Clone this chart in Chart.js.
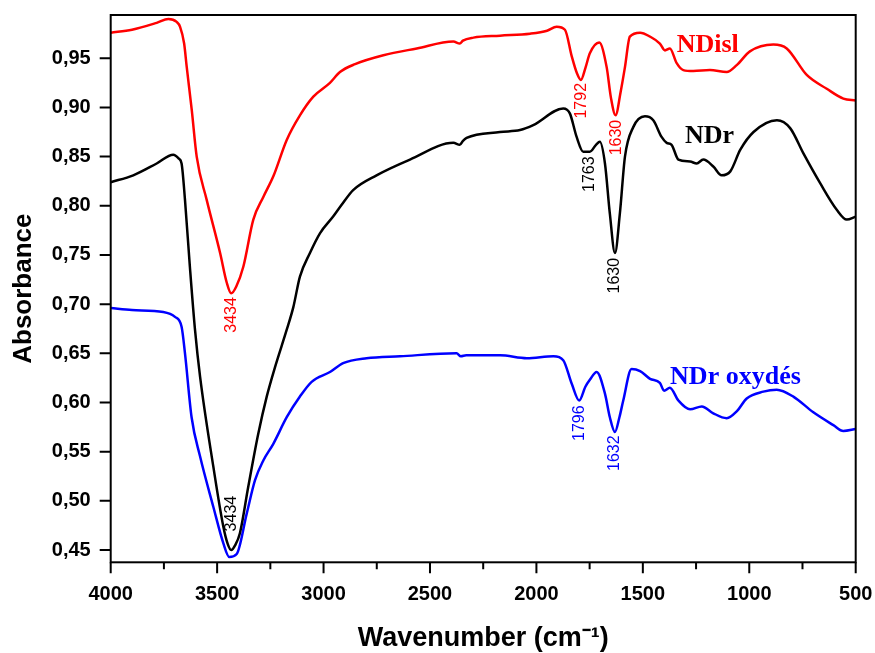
<!DOCTYPE html>
<html>
<head>
<meta charset="utf-8">
<script src="https://cdn.jsdelivr.net/npm/chart.js@4.4.1/dist/chart.umd.min.js"></script>
<style>
  html, body { margin: 0; padding: 0; background: #fff; }
  canvas { display: block; }
</style>
</head>
<body>
<canvas id="chart" width="875" height="653"></canvas>
<script>
// FTIR spectra
const wnNDisl = [4000, 3900, 3784, 3729, 3690, 3674, 3655, 3643, 3619, 3596, 3549, 3486, 3455, 3434, 3410, 3377, 3330, 3283, 3236, 3173,
  3111, 3048, 2970, 2923, 2852, 2719, 2562, 2390, 2360, 2345, 2296, 2171, 2030, 1950, 1905, 1866, 1834, 1810, 1791, 1770,
  1749, 1705, 1670, 1650, 1628, 1605, 1584, 1561, 1513, 1466, 1420, 1396, 1373, 1341, 1310, 1263, 1185, 1106, 1059, 997,
  887, 824, 730, 636, 558, 500];
const absNDisl = [0.976, 0.979, 0.986, 0.990, 0.987, 0.982, 0.965, 0.9415, 0.897, 0.850, 0.806, 0.752, 0.722, 0.711, 0.718, 0.738, 0.786, 0.809, 0.830, 0.867,
  0.892, 0.911, 0.925, 0.936, 0.944, 0.953, 0.960, 0.967, 0.965, 0.968, 0.971, 0.973, 0.975, 0.978, 0.982, 0.979, 0.952, 0.935, 0.928, 0.940,
  0.955, 0.966, 0.941, 0.910, 0.892, 0.915, 0.941, 0.972, 0.976, 0.972, 0.965, 0.958, 0.960, 0.945, 0.938, 0.937, 0.938, 0.936, 0.943, 0.957,
  0.964, 0.960, 0.933, 0.919, 0.909, 0.907];

const wnNDr = [4000, 3894, 3784, 3706, 3680, 3667, 3651, 3628, 3604, 3580, 3518, 3471, 3450, 3434, 3415, 3393, 3354, 3307, 3267, 3228,
  3173, 3142, 3111, 3064, 3017, 2955, 2915, 2861, 2751, 2594, 2390, 2360, 2345, 2328, 2171, 2077, 2015, 1874, 1843, 1811,
  1780, 1764, 1749, 1720, 1702, 1678, 1655, 1631, 1608, 1584, 1545, 1490, 1451, 1412, 1388, 1365, 1333, 1278, 1247, 1216,
  1169, 1130, 1089, 1042, 980, 870, 808, 745, 667, 589, 542, 500];
const absNDr = [0.824, 0.831, 0.843, 0.852, 0.848, 0.843, 0.806, 0.738, 0.674, 0.626, 0.535, 0.474, 0.456, 0.450, 0.455, 0.467, 0.514, 0.568, 0.606, 0.636,
  0.674, 0.697, 0.728, 0.752, 0.772, 0.789, 0.801, 0.816, 0.831, 0.847, 0.864, 0.862, 0.866, 0.869, 0.875, 0.877, 0.882, 0.899, 0.894, 0.870,
  0.855, 0.855, 0.855, 0.862, 0.865, 0.843, 0.792, 0.752, 0.792, 0.850, 0.880, 0.891, 0.887, 0.870, 0.864, 0.862, 0.847, 0.845, 0.843, 0.847,
  0.840, 0.831, 0.835, 0.857, 0.875, 0.887, 0.879, 0.853, 0.823, 0.796, 0.786, 0.789];

const wnOxy = [4000, 3900, 3753, 3698, 3667, 3651, 3620, 3580, 3518, 3471, 3443, 3408, 3361, 3322, 3283, 3236, 3173, 3111, 3056, 2970,
  2908, 2798, 2641, 2375, 2355, 2330, 2171, 2045, 1920, 1874, 1834, 1799, 1770, 1749, 1717, 1678, 1655, 1631, 1610, 1592,
  1553, 1513, 1466, 1420, 1400, 1373, 1333, 1278, 1223, 1169, 1106, 1059, 1012, 934, 871, 793, 699, 605, 558, 500];
const absOxy = [0.696, 0.694, 0.692, 0.687, 0.677, 0.650, 0.585, 0.545, 0.494, 0.457, 0.443, 0.446, 0.487, 0.521, 0.541, 0.558, 0.585, 0.606, 0.621, 0.631,
  0.640, 0.645, 0.647, 0.650, 0.647, 0.648, 0.648, 0.645, 0.647, 0.643, 0.619, 0.602, 0.616, 0.623, 0.631, 0.609, 0.585, 0.570, 0.585, 0.602,
  0.634, 0.632, 0.624, 0.620, 0.612, 0.615, 0.602, 0.593, 0.596, 0.589, 0.584, 0.591, 0.604, 0.611, 0.613, 0.606, 0.590, 0.577, 0.571, 0.573];

// peak labels (rotated) and curve names
const peakLabels = [
  { text: '3434', x: 3434, y: 0.689, color: '#ff0000' },
  { text: '1792', x: 1789, y: 0.9068, color: '#ff0000' },
  { text: '1630', x: 1623, y: 0.8694, color: '#ff0000' },
  { text: '3434', x: 3430, y: 0.487, color: '#000000' },
  { text: '1763', x: 1748, y: 0.8322, color: '#000000' },
  { text: '1630', x: 1632, y: 0.7289, color: '#000000' },
  { text: '1796', x: 1799, y: 0.579, color: '#0000ff' },
  { text: '1632', x: 1631, y: 0.5485, color: '#0000ff' }
];
const curveNames = [
  { text: 'NDisl', x: 1341, y: 0.9564, color: '#ff0000' },
  { text: 'NDr', x: 1302, y: 0.8635, color: '#000000' },
  { text: 'NDr oxydés', x: 1372, y: 0.6187, color: '#0000ff' }
];

const toPoints = (xs, ys) => xs.map((x, i) => ({ x: x, y: ys[i] }));
const sansFont = '"Liberation Sans", Arial, sans-serif';

// box, outward ticks (major/minor) and text labels
const framePlugin = {
  id: 'frame',
  afterDatasetsDraw(chart) {
    const { ctx, chartArea: a, scales: { x, y } } = chart;
    ctx.save();
    ctx.strokeStyle = '#000';
    ctx.lineWidth = 2;
    ctx.strokeRect(a.left, a.top, a.right - a.left, a.bottom - a.top);

    ctx.beginPath();
    x.ticks.forEach(t => {
      const px = x.getPixelForValue(t.value);
      const len = t.value % 500 === 0 ? 11 : 7;
      ctx.moveTo(px, a.bottom);
      ctx.lineTo(px, a.bottom + len);
    });
    y.ticks.forEach(t => {
      const py = y.getPixelForValue(t.value);
      const major = Math.abs(t.value * 20 - Math.round(t.value * 20)) < 1e-6;
      ctx.moveTo(a.left, py);
      ctx.lineTo(a.left - (major ? 11 : 7), py);
    });
    ctx.stroke();

    ctx.font = '16px ' + sansFont;
    ctx.textAlign = 'center';
    ctx.textBaseline = 'middle';
    peakLabels.forEach(p => {
      ctx.save();
      ctx.translate(x.getPixelForValue(p.x), y.getPixelForValue(p.y));
      ctx.rotate(-Math.PI / 2);
      ctx.fillStyle = p.color;
      ctx.fillText(p.text, 0, 0);
      ctx.restore();
    });

    ctx.font = 'bold 26px "Liberation Serif", "Times New Roman", serif';
    ctx.textAlign = 'left';
    ctx.textBaseline = 'alphabetic';
    curveNames.forEach(n => {
      ctx.fillStyle = n.color;
      ctx.fillText(n.text, x.getPixelForValue(n.x), y.getPixelForValue(n.y));
    });
    ctx.restore();
  }
};

new Chart(document.getElementById('chart'), {
  type: 'line',
  data: {
    datasets: [
      { label: 'NDisl', data: toPoints(wnNDisl, absNDisl), borderColor: '#ff0000' },
      { label: 'NDr', data: toPoints(wnNDr, absNDr), borderColor: '#000000' },
      { label: 'NDr oxydés', data: toPoints(wnOxy, absOxy), borderColor: '#0000ff' }
    ]
  },
  options: {
    responsive: false,
    animation: false,
    layout: { padding: { left: 0, right: 19.3, top: 15, bottom: 0 } },
    plugins: { legend: { display: false }, tooltip: { enabled: false } },
    elements: {
      point: { radius: 0 },
      line: { borderWidth: 2.5, cubicInterpolationMode: 'monotone', fill: false }
    },
    scales: {
      x: {
        type: 'linear',
        reverse: true,
        min: 500,
        max: 4000,
        afterFit: s => { s.height = 90.7; s.paddingLeft = 0; s.paddingRight = 0; },
        border: { display: false },
        grid: { drawOnChartArea: false, tickLength: 10, tickColor: 'transparent' },
        ticks: {
          stepSize: 250,
          autoSkip: false,
          maxRotation: 0,
          padding: 10,
          color: '#000',
          font: { family: sansFont, size: 20, weight: 'bold' },
          callback: v => (v % 500 === 0 ? String(v) : '')
        },
        title: {
          display: true,
          text: 'Wavenumber (cm⁻¹)',
          color: '#000',
          padding: { top: 0, bottom: 0 },
          font: { family: sansFont, size: 27, weight: 'bold', lineHeight: 1.05 }
        }
      },
      y: {
        min: 0.4375,
        max: 0.994,
        afterFit: s => { s.width = 110.7; s.paddingTop = 0; s.paddingBottom = 0; },
        border: { display: false },
        grid: { drawOnChartArea: false, tickLength: 10, tickColor: 'transparent' },
        ticks: {
          stepSize: 0.025,
          includeBounds: false,
          padding: 10,
          color: '#000',
          font: { family: sansFont, size: 20, weight: 'bold' },
          callback: v => (Math.abs(v * 20 - Math.round(v * 20)) < 1e-6 ? v.toFixed(2).replace('.', ',') : '')
        },
        title: {
          display: true,
          text: 'Absorbance',
          color: '#000',
          padding: { top: 8, bottom: 0 },
          font: { family: sansFont, size: 26, weight: 'bold' }
        }
      }
    }
  },
  plugins: [framePlugin]
});
</script>
</body>
</html>
